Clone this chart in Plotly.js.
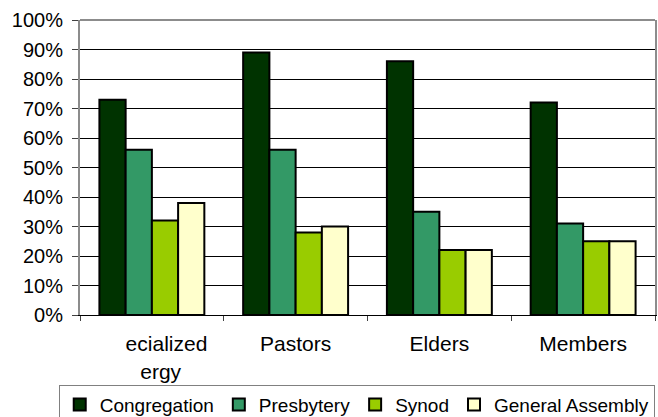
<!DOCTYPE html>
<html>
<head>
<meta charset="utf-8">
<script src="https://cdn.plot.ly/plotly-3.0.1.min.js"></script>
<style>html,body{margin:0;padding:0;background:#fff;overflow:hidden}#chart{width:658px;height:417px}</style>
</head>
<body>
<div id="chart"></div>
<script>
const NB = "\u00a0";
const categories = [NB.repeat(5) + "ecialized<br>" + NB.repeat(3) + "ergy", "Pastors", "Elders", "Members"];
const seriesNames = ["Congregation", "Presbytery", "Synod", "General Assembly"];
const congregation = [73, 89, 86, 72];
const presbytery = [56, 56, 35, 31];
const synod = [32, 28, 22, 25];
const generalAssembly = [38, 30, 22, 25];
const colors = ["#003300", "#339966", "#99CC00", "#FFFFCC"];
const yTickVals = [0, 10, 20, 30, 40, 50, 60, 70, 80, 90, 100];

const values = [congregation, presbytery, synod, generalAssembly];
const traces = values.map((v, i) => ({
  type: "bar",
  name: seriesNames[i],
  x: categories,
  y: v,
  marker: { color: colors[i], line: { color: "#000", width: 2 } },
  hoverinfo: "none"
}));

const family = "Liberation Sans, Arial, sans-serif";
const font = { family: family, size: 20, color: "#000" };

const layout = {
  width: 658, height: 417,
  margin: { l: 80, r: 3, t: 20, b: 102, autoexpand: false },
  paper_bgcolor: "#fff", plot_bgcolor: "#fff",
  font: font,
  barmode: "group", bargap: 0.27, bargroupgap: 0,
  showlegend: true,
  legend: {
    orientation: "h", x: -0.037, xanchor: "left", y: -0.236, yanchor: "top",
    bordercolor: "#808080", borderwidth: 1, bgcolor: "#fff",
    font: { family: family, size: 19, color: "#000" },
    itemwidth: 30, traceorder: "normal", tracegroupgap: 0
  },
  xaxis: {
    type: "category", showgrid: false, zeroline: false,
    showline: true, linecolor: "#000", linewidth: 1,
    ticks: "outside", tickson: "boundaries", ticklen: 5, tickcolor: "#404040", tickwidth: 1,
    ticklabelstandoff: 10, tickfont: { family: family, size: 21, color: "#000" }, fixedrange: true
  },
  yaxis: {
    range: [0, 100], tickvals: yTickVals, ticktext: yTickVals.map(v => v + "%"),
    showgrid: true, gridcolor: "#000", gridwidth: 1, zeroline: false,
    showline: true, linecolor: "#8c8c8c", linewidth: 2, mirror: true,
    ticks: "outside", ticklen: 6, tickcolor: "#404040", tickwidth: 1,
    ticklabelstandoff: 5, tickfont: font, fixedrange: true
  },
  shapes: [{ type: "line", xref: "paper", yref: "paper", x0: 0, x1: 1, y0: 1, y1: 1,
             line: { color: "#8c8c8c", width: 2 } }]
};

Plotly.newPlot("chart", traces, layout, { staticPlot: true, displayModeBar: false });
</script>
</body>
</html>
